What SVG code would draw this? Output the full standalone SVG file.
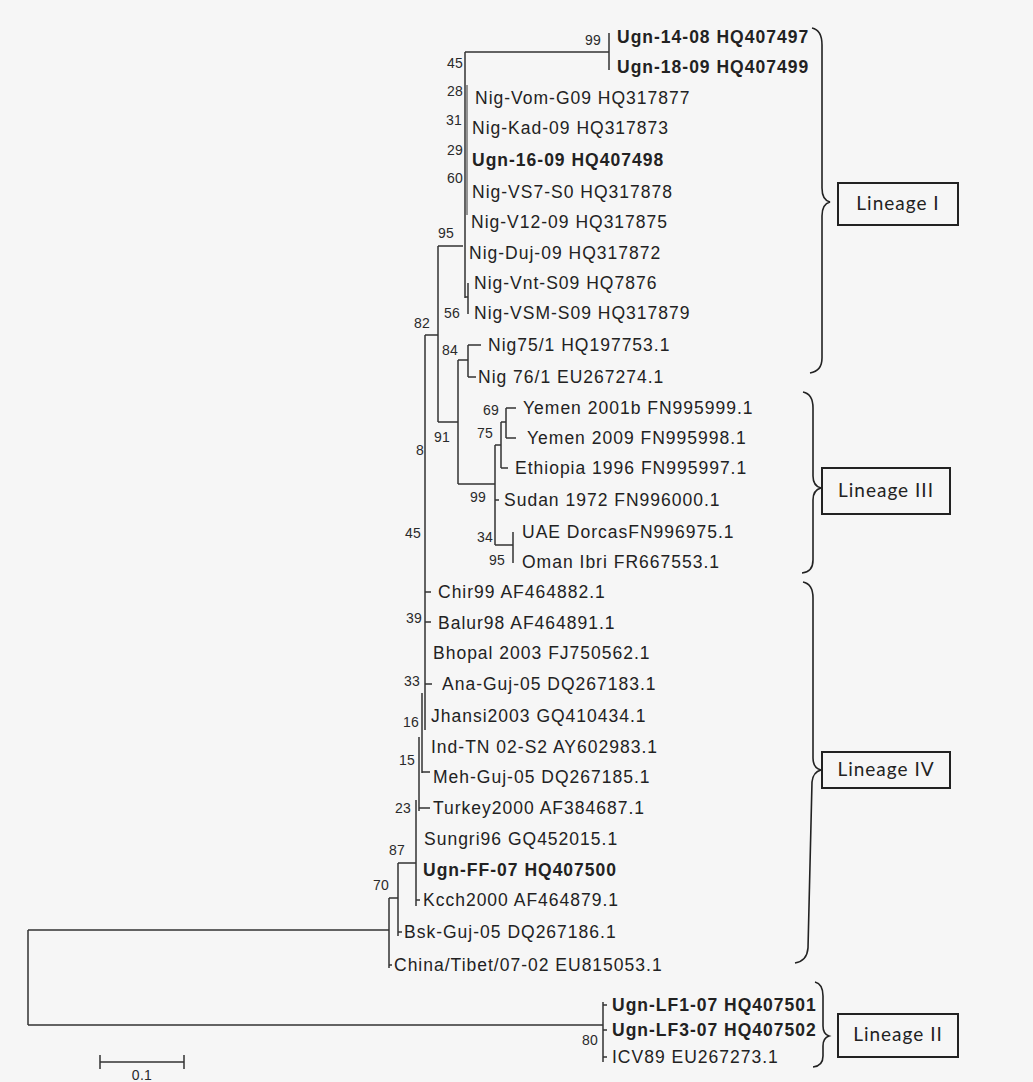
<svg xmlns="http://www.w3.org/2000/svg" width="1033" height="1082" viewBox="0 0 1033 1082">
<style>
.leaf{font-family:"Liberation Sans",Arial,sans-serif;font-size:17.5px;letter-spacing:1px;fill:#222}
.b{font-weight:bold}
.bs{font-family:"Liberation Sans",Arial,sans-serif;font-size:14px;letter-spacing:0.3px;fill:#2a2a2a;text-anchor:middle}
.lin{font-family:Lato,"Open Sans","Liberation Sans",sans-serif;font-size:19px;letter-spacing:1px;fill:#222;text-anchor:middle}
.box{fill:none;stroke:#222;stroke-width:2}
.ln{fill:none;stroke:#333;stroke-width:1.5}
.br{fill:none;stroke:#222;stroke-width:1.6}
</style>
<rect width="1033" height="1082" fill="#f6f6f6"/>
<g id="connectors" class="ln">
<path d="M28,930 H389 M28,930 V1025 M28,1025 H603 M603,1002 V1062 M603,1005 H607 M603,1030 H607 M603,1057 H607"/>
<path d="M389,898 V968 M389,965 H392 M389,898 H398 M398,863 V936 M398,932 H402"/>
<path d="M398,863 H416 M416,800 V906 M416,900 H420"/>
<path d="M419,737 V811 M419,808 H430 M422,693 V773 M422,772 H430 M425,335 V730"/>
<path d="M425,592 H431 M425,622 H431 M425,684 H432"/>
<path d="M425,335 H438 M438,246 V422"/>
<path d="M438,246 H463 M465,52 V298 M465,52 H609 M609,33 V70"/>
<path d="M467,85 V215" stroke-width="1"/>
<path d="M465,297 H468 M468,283 V314"/>
<path d="M438,422 H458 M458,360 V484 M458,360 H468 M468,345 V377 M468,345 H481 M468,377 H476"/>
<path d="M458,484 H495 M495,445 V545 M495,500 H499"/>
<path d="M495,445 H501 M501,422 V468 M501,468 H508 M501,422 H506 M506,408 V438 M506,408 H516 M506,438 H516"/>
<path d="M495,545 H513 M513,532 V563"/>
<path d="M100,1062 H184 M100,1055 V1069 M184,1055 V1069"/>
</g>
<g id="bootstrap">
<text class="bs" x="593" y="45">99</text>
<text class="bs" x="455" y="68">45</text>
<text class="bs" x="455" y="96">28</text>
<text class="bs" x="454" y="125">31</text>
<text class="bs" x="455" y="155">29</text>
<text class="bs" x="455" y="183">60</text>
<text class="bs" x="446" y="238">95</text>
<text class="bs" x="452" y="318">56</text>
<text class="bs" x="422" y="328">82</text>
<text class="bs" x="450" y="355">84</text>
<text class="bs" x="491" y="415">69</text>
<text class="bs" x="485" y="438">75</text>
<text class="bs" x="442" y="442">91</text>
<text class="bs" x="420" y="455">8</text>
<text class="bs" x="478" y="502">99</text>
<text class="bs" x="485" y="542">34</text>
<text class="bs" x="413" y="538">45</text>
<text class="bs" x="497" y="565">95</text>
<text class="bs" x="414" y="623">39</text>
<text class="bs" x="412" y="686">33</text>
<text class="bs" x="411" y="727">16</text>
<text class="bs" x="407" y="765">15</text>
<text class="bs" x="403" y="813">23</text>
<text class="bs" x="397" y="855">87</text>
<text class="bs" x="381" y="890">70</text>
<text class="bs" x="590" y="1045">80</text>
<text class="bs" x="142" y="1080" font-size="13">0.1</text>
</g>
<g id="leaves">
<g id="n1"><text class="leaf b" x="617" y="43">Ugn-14-08 HQ407497</text></g>
<g id="n2"><text class="leaf b" x="617" y="73">Ugn-18-09 HQ407499</text></g>
<g id="n3"><text class="leaf" x="475" y="104">Nig-Vom-G09 HQ317877</text></g>
<g id="n4"><text class="leaf" x="472" y="134">Nig-Kad-09 HQ317873</text></g>
<g id="n5"><text class="leaf b" x="472" y="166">Ugn-16-09 HQ407498</text></g>
<g id="n6"><text class="leaf" x="472" y="198">Nig-VS7-S0 HQ317878</text></g>
<g id="n7"><text class="leaf" x="471" y="228">Nig-V12-09 HQ317875</text></g>
<g id="n8"><text class="leaf" x="469" y="259">Nig-Duj-09 HQ317872</text></g>
<g id="n9"><text class="leaf" x="474" y="289">Nig-Vnt-S09 HQ7876</text></g>
<g id="n10"><text class="leaf" x="474" y="319">Nig-VSM-S09 HQ317879</text></g>
<g id="n11"><text class="leaf" x="488" y="351">Nig75/1 HQ197753.1</text></g>
<g id="n12"><text class="leaf" x="478" y="383">Nig 76/1 EU267274.1</text></g>
<g id="n13"><text class="leaf" x="523" y="414">Yemen 2001b FN995999.1</text></g>
<g id="n14"><text class="leaf" x="527" y="444">Yemen 2009 FN995998.1</text></g>
<g id="n15"><text class="leaf" x="515" y="474">Ethiopia 1996 FN995997.1</text></g>
<g id="n16"><text class="leaf" x="504" y="506">Sudan 1972 FN996000.1</text></g>
<g id="n17"><text class="leaf" x="522" y="538">UAE DorcasFN996975.1</text></g>
<g id="n18"><text class="leaf" x="522" y="568">Oman Ibri FR667553.1</text></g>
<g id="n19"><text class="leaf" x="438" y="598">Chir99 AF464882.1</text></g>
<g id="n20"><text class="leaf" x="438" y="629">Balur98 AF464891.1</text></g>
<g id="n21"><text class="leaf" x="433" y="659">Bhopal 2003 FJ750562.1</text></g>
<g id="n22"><text class="leaf" x="442" y="690">Ana-Guj-05 DQ267183.1</text></g>
<g id="n23"><text class="leaf" x="431" y="722">Jhansi2003 GQ410434.1</text></g>
<g id="n24"><text class="leaf" x="431" y="753">Ind-TN 02-S2 AY602983.1</text></g>
<g id="n25"><text class="leaf" x="433" y="783">Meh-Guj-05 DQ267185.1</text></g>
<g id="n26"><text class="leaf" x="433" y="814">Turkey2000 AF384687.1</text></g>
<g id="n27"><text class="leaf" x="424" y="845">Sungri96 GQ452015.1</text></g>
<g id="n28"><text class="leaf b" x="423" y="876">Ugn-FF-07 HQ407500</text></g>
<g id="n29"><text class="leaf" x="423" y="906">Kcch2000 AF464879.1</text></g>
<g id="n30"><text class="leaf" x="404" y="938">Bsk-Guj-05 DQ267186.1</text></g>
<g id="n31"><text class="leaf" x="394" y="971">China/Tibet/07-02 EU815053.1</text></g>
<g id="n32"><text class="leaf b" x="612" y="1011">Ugn-LF1-07 HQ407501</text></g>
<g id="n33"><text class="leaf b" x="612" y="1036">Ugn-LF3-07 HQ407502</text></g>
<g id="n34"><text class="leaf" x="612" y="1063">ICV89 EU267273.1</text></g>
</g>
<g id="braces" class="br">
<path d="M812,28 Q822,30 822,45 V188 Q822,200 830,202 Q822,204 822,216 V358 Q822,371 810,373"/>
<path d="M803,392 Q813,394 813,408 V476 Q813,486 821,488 Q813,490 813,500 V560 Q813,572 802,573"/>
<path d="M803,582 Q813,584 813,598 V758 Q813,768 821,770 Q813,772 812,782 L808,948 Q807,961 795,963"/>
<path d="M815,982 Q823,984 823,996 V1026 Q823,1034 829,1036 Q823,1038 823,1046 V1056 Q823,1066 813,1067"/>
</g>
<g id="lineage1"><rect class="box" x="838" y="183" width="120" height="42"/><text class="lin" x="898" y="210">Lineage I</text></g>
<g id="lineage3"><rect class="box" x="822" y="468" width="128" height="46"/><text class="lin" x="886" y="497">Lineage III</text></g>
<g id="lineage4"><rect class="box" x="822" y="752" width="128" height="36"/><text class="lin" x="886" y="776">Lineage IV</text></g>
<g id="lineage2"><rect class="box" x="838" y="1014" width="120" height="43"/><text class="lin" x="898" y="1041">Lineage II</text></g>
</svg>
